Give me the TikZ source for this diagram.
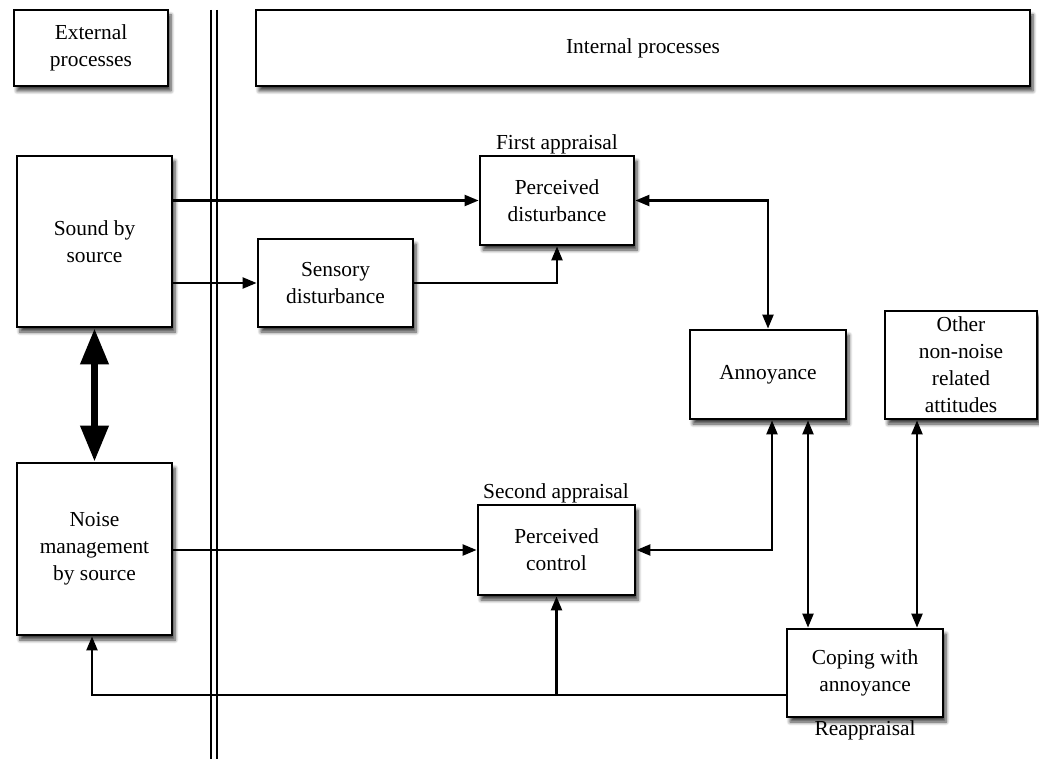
\documentclass[tikz,border=0pt]{standalone}
\usepackage{fontspec}
\setmainfont{Liberation Serif}
\usetikzlibrary{arrows.meta,shadows.blur,calc}
\begin{document}
\begin{tikzpicture}[x=1pt,y=-1pt,
 box/.style={draw=black,line width=2.8pt,fill=white,align=center,inner sep=0pt,
   blur shadow={shadow xshift=3pt,shadow yshift=-5pt,shadow blur steps=6,shadow opacity=75,shadow blur radius=3.5pt},
   font=\fontsize{21.4}{27}\selectfont},
 lbl/.style={font=\fontsize{21.4}{27}\selectfont,inner sep=0pt},
 conn/.style={line width=2.2pt,-{Triangle[length=14pt,width=11pt]}},
 both/.style={line width=2.2pt,{Triangle[length=14pt,width=11pt]}-{Triangle[length=14pt,width=11pt]}},
 thick2/.style={line width=7pt,{Triangle[length=36pt,width=27pt]}-{Triangle[length=36pt,width=27pt]}},
 sep/.style={line width=2.5pt}]
\useasboundingbox (0,0) rectangle (1039,759);
% separator
\draw[sep] (211,10) -- (211,759);
\draw[sep] (217,10) -- (217,759);
% header boxes
\node[box,minimum width=154pt,minimum height=76pt] (ext) at (91,48) {External\\processes};
\node[box,minimum width=774pt,minimum height=76pt] (int) at (643,48) {Internal processes};
% nodes
\node[box,minimum width=155pt,minimum height=171pt] (sound) at (94.5,241.5) {Sound by\\source};
\node[box,minimum width=155pt,minimum height=172pt] (noise) at (94.5,549) {Noise\\management\\by source};
\node[box,minimum width=155pt,minimum height=88pt] (sens) at (335.5,283) {Sensory\\disturbance};
\node[box,minimum width=154pt,minimum height=89pt] (pd) at (557,200.5) {Perceived\\disturbance};
\node[box,minimum width=157pt,minimum height=90pt] (pc) at (556.5,550) {Perceived\\control};
\node[box,minimum width=156pt,minimum height=89pt] (ann) at (768,374.5) {Annoyance};
\node[box,minimum width=152pt,minimum height=108pt] (oth) at (961,365) {Other\\non-noise\\related\\attitudes};
\node[box,minimum width=156pt,minimum height=88pt] (cop) at (865,673) {Coping with\\annoyance};
% labels
\node[lbl] (fa) at (557,144) {First appraisal};
\node[lbl] (sa) at (556,493) {Second appraisal};
\node[lbl] (ra) at (865,730) {Reappraisal};
% connectors
\draw[conn] (sound.east |- pd.west) -- (pd.west);
\draw[conn] (sound.east |- sens.west) -- (sens.west);
\draw[conn] (sens.east) -| (pd.south);
\draw[both] (pd.east) -| (ann.north);
\draw[conn] (noise.east |- pc.west) -- (pc.west);
\draw[both] (pc.east) -| ([xshift=4pt]ann.south);
\draw[both] ([xshift=40pt]ann.south) -- ([xshift=40pt]ann.south |- cop.north);
\draw[both] ([xshift=-44pt]oth.south) -- ([xshift=-44pt]oth.south |- cop.north);
\coordinate (fb) at ([yshift=-22pt]cop.west);
\draw[conn] (fb) -| ([xshift=-2.5pt]noise.south);
\draw[conn] (fb -| pc.south) -- (pc.south);
\draw[thick2] (sound.south) -- (noise.north);
\end{tikzpicture}
\end{document}
